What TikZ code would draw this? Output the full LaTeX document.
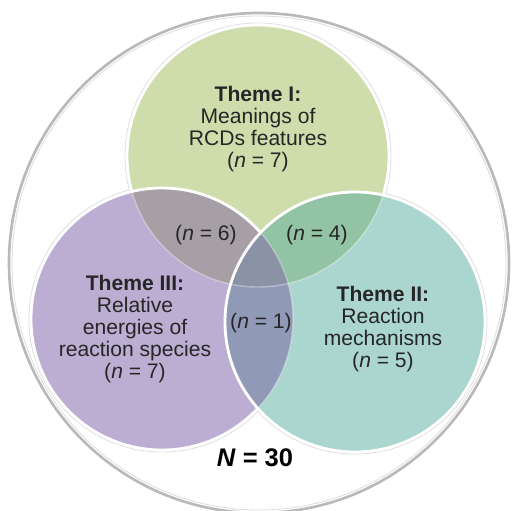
\documentclass[tikz,border=0pt]{standalone}
\usepackage{fontspec}
\setmainfont{Liberation Sans}
\usepackage{tikz}

\definecolor{themeI}{HTML}{CFDCAB}
\definecolor{themeII}{HTML}{ABD6D0}
\definecolor{themeIII}{HTML}{BBAED2}
\definecolor{themeIandII}{HTML}{93C3A5}
\definecolor{themeIandIII}{HTML}{A79FA6}
\definecolor{themeIIandIII}{HTML}{9099B6}
\definecolor{themeAll}{HTML}{8A92A6}

\tikzset{
  themetext/.style={align=center, text=black!85, font=\fontsize{12}{12.4}\selectfont},
  rim/.style={white, line width=1.6pt},
  faint/.style={white, opacity=.35, line width=0.8pt},
  shade/.style={gray!25, line width=0.5pt}
}

\begin{document}
\begin{tikzpicture}[x=0.02cm, y=-0.02cm]
\useasboundingbox (0,0) rectangle (511,511);
\coordinate (o) at (259,263);
\coordinate (g) at (258,156);
\coordinate (p) at (162,319);
\coordinate (t) at (355,322);
% whole sample
\draw[fill=white, draw=gray!55, line width=1.5pt] (o) circle (250);
\draw[shade] (o) circle (247);
% soft edges round the three sets
\draw[shade] (g) circle (133);
\draw[shade] (p) circle (133);
\draw[shade] (t) circle (132);
% theme I
\fill[themeI] (g) circle (131);
\draw[rim] (g) circle (131);
% theme III
\fill[themeIII] (p) circle (131);
\begin{scope}
  \clip (g) circle (131);
  \fill[themeIandIII] (p) circle (131);
\end{scope}
\draw[rim] (p) circle (131);
% theme II
\fill[themeII] (t) circle (130);
\begin{scope}
  \clip (g) circle (131);
  \fill[themeIandII] (t) circle (130);
\end{scope}
\begin{scope}
  \clip (p) circle (131);
  \fill[themeIIandIII] (t) circle (130);
  \clip (g) circle (131);
  \fill[themeAll] (t) circle (130);
\end{scope}
\draw[rim] (t) circle (130);
% borders seen through the upper sets
\draw[faint] (g) circle (131);
\draw[faint] (p) circle (131);

\node[themetext] (themeI) at (258,129)
  {\textbf{Theme I:}\\Meanings of\\RCDs features\\(\textit{n} = 7)};
\node[themetext] (themeIII) at (135,329)
  {\textbf{Theme III:}\\Relative\\energies of\\reaction species\\(\textit{n} = 7)};
\node[themetext] (themeII) at (383,329)
  {\textbf{Theme II:}\\Reaction\\mechanisms\\(\textit{n} = 5)};
\node[themetext] (IandIII) at (206,235) {(\textit{n} = 6)};
\node[themetext] (IandII) at (317,235) {(\textit{n} = 4)};
\node[themetext] (all) at (261,323) {(\textit{n} = 1)};
\node[font=\fontsize{14.5}{16}\selectfont\bfseries] (total) at (255,458)
  {\textit{N} = 30};
\end{tikzpicture}
\end{document}
